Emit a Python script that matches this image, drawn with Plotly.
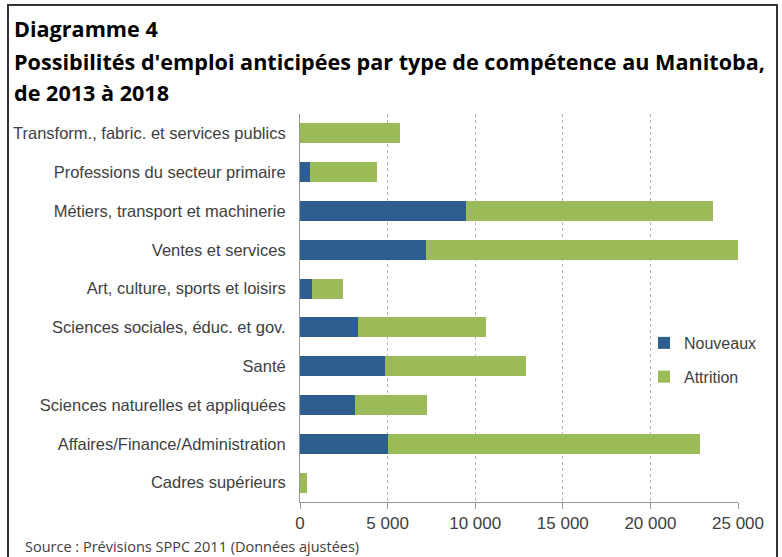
import plotly.graph_objects as go

categories = [
    "Transform., fabric. et services publics",
    "Professions du secteur primaire",
    "Métiers, transport et machinerie",
    "Ventes et services",
    "Art, culture, sports et loisirs",
    "Sciences sociales, éduc. et gov.",
    "Santé",
    "Sciences naturelles et appliquées",
    "Affaires/Finance/Administration",
    "Cadres supérieurs",
]
nouveaux = [0, 550, 9500, 7200, 700, 3300, 4850, 3150, 5000, 0]
totals = [5700, 4400, 23550, 25000, 2450, 10600, 12900, 7250, 22850, 380]
attrition = [t - n for t, n in zip(totals, nouveaux)]
tick_vals = [0, 5000, 10000, 15000, 20000, 25000]
tick_text = ["0", "5 000", "10 000", "15 000", "20 000", "25 000"]

BLUE = "#2E5D90"
GREEN = "#9BBB59"
TXT = "#404040"

fig = go.Figure()
fig.add_trace(go.Bar(y=categories, x=nouveaux, name="Nouveaux", orientation="h",
                     legendgroup="a",
                     marker=dict(color=BLUE, line=dict(width=0))))
fig.add_trace(go.Bar(y=categories, x=attrition, name="Attrition", orientation="h",
                     legendgroup="b",
                     marker=dict(color=GREEN, line=dict(width=0))))

W, H = 782, 557
L, R, T, B = 300, 44, 114, 55
pw, ph = W - L - R, H - T - B


def px(p):
    return (p - L) / pw


def py(q):
    return (H - B - q) / ph


fig.update_layout(
    width=W, height=H,
    barmode="stack",
    bargap=0.48,
    margin=dict(l=L, r=R, t=T, b=B, autoexpand=False),
    paper_bgcolor="white",
    plot_bgcolor="white",
    font=dict(family="Liberation Sans", color=TXT, size=16),
    showlegend=True,
    legend=dict(x=px(644), y=py(326), xanchor="left", yanchor="top",
                font=dict(family="Liberation Sans", size=16, color=TXT),
                bgcolor="rgba(0,0,0,0)",
                traceorder="grouped", tracegroupgap=10, itemwidth=30),
    xaxis=dict(range=[0, 25000], tickvals=tick_vals, ticktext=tick_text,
               showgrid=True, gridcolor="#B5B5B5", griddash="3px,3px", gridwidth=1,
               showline=True, linecolor="#969696", linewidth=1,
               ticks="outside", ticklen=6, tickcolor="#969696",
               tickfont=dict(family="Liberation Sans", size=17, color=TXT),
               zeroline=False, fixedrange=True),
    yaxis=dict(autorange="reversed", showline=True, linecolor="#969696", linewidth=1,
               ticks="", ticklabelstandoff=10,
               tickfont=dict(family="Liberation Sans", size=16.5, color=TXT),
               showgrid=False, fixedrange=True),
)

title_font = dict(family="Open Sans", size=21.6, color="#000000")
titles = ["<b>Diagramme 4</b>",
          "<b>Possibilités d'emploi anticipées par type de compétence au Manitoba,</b>",
          "<b>de 2013 à 2018</b>"]
ys = [29, 61, 93]
for t, yy in zip(titles, ys):
    fig.add_annotation(text=t, xref="paper", yref="paper", x=px(12), y=py(yy),
                       xanchor="left", yanchor="middle", showarrow=False, font=title_font)

fig.add_annotation(text="Source : Prévisions SPPC 2011 (Données ajustées)",
                   xref="paper", yref="paper", x=px(23), y=py(546),
                   xanchor="left", yanchor="middle", showarrow=False,
                   font=dict(family="Open Sans", size=14.5, color=TXT))

fig.add_shape(type="rect", xref="paper", yref="paper",
              x0=px(8), x1=px(777), y0=py(570), y1=py(5),
              line=dict(color="#333333", width=2), fillcolor="rgba(0,0,0,0)", layer="above")

fig.write_html("out.html")
